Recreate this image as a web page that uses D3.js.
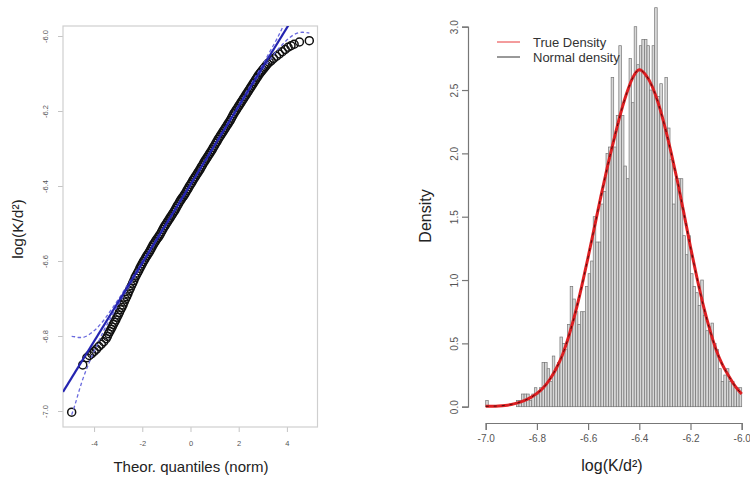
<!DOCTYPE html>
<html>
<head>
<meta charset="utf-8">
<script src="https://cdn.jsdelivr.net/npm/d3@7"></script>
<style>
  body { margin: 0; background: #fff; }
  svg { display: block; }
  text { font-family: "Liberation Sans", Arial, Helvetica, sans-serif; }
</style>
</head>
<body>
<svg id="chart" width="750" height="481"></svg>
<script>
// ---------- Normal Q-Q plot of log(K/d^2) ----------
const qqTheoretical = [
  -4.93, -4.47, -4.30, -4.20, -4.10, -4.00, -3.90, -3.80, -3.70, -3.60, -3.50,
  -3.45, -3.40, -3.35, -3.30, -3.25, -3.20, -3.15, -3.10, -3.05, -3.00,
  -2.95, -2.90, -2.85, -2.80, -2.75, -2.70, -2.65, -2.60, -2.55, -2.50,
  -2.45, -2.40, -2.35, -2.30, -2.25, -2.20, -2.15, -2.10, -2.05, -2.00,
  -1.95, -1.90, -1.85, -1.80, -1.75, -1.70, -1.65, -1.60, -1.55, -1.50,
  -1.45, -1.40, -1.35, -1.30, -1.25, -1.20, -1.15, -1.10, -1.05, -1.00,
  -0.95, -0.90, -0.85, -0.80, -0.75, -0.70, -0.65, -0.60, -0.55, -0.50,
  -0.45, -0.40, -0.35, -0.30, -0.25, -0.20, -0.15, -0.10, -0.05, 0.00,
  0.05, 0.10, 0.15, 0.20, 0.25, 0.30, 0.35, 0.40, 0.45, 0.50,
  0.55, 0.60, 0.65, 0.70, 0.75, 0.80, 0.85, 0.90, 0.95, 1.00,
  1.05, 1.10, 1.15, 1.20, 1.25, 1.30, 1.35, 1.40, 1.45, 1.50,
  1.55, 1.60, 1.65, 1.70, 1.75, 1.80, 1.85, 1.90, 1.95, 2.00,
  2.05, 2.10, 2.15, 2.20, 2.25, 2.30, 2.35, 2.40, 2.45, 2.50,
  2.55, 2.60, 2.65, 2.70, 2.75, 2.80, 2.85, 2.90, 2.95, 3.00,
  3.05, 3.10, 3.15, 3.20, 3.27, 3.35, 3.45, 3.57, 3.69, 3.81,
  3.93, 4.05, 4.17, 4.30, 4.52, 4.93
];
const qqSample = [
  -7.003, -6.877, -6.858, -6.852, -6.847, -6.841, -6.835, -6.828, -6.822, -6.815, -6.807,
  -6.801, -6.794, -6.788, -6.782, -6.776, -6.769, -6.763, -6.757, -6.750, -6.744,
  -6.737, -6.730, -6.724, -6.717, -6.709, -6.702, -6.695, -6.688, -6.680, -6.673,
  -6.666, -6.659, -6.652, -6.644, -6.638, -6.632, -6.626, -6.619, -6.613, -6.607,
  -6.601, -6.596, -6.590, -6.585, -6.580, -6.575, -6.569, -6.563, -6.557, -6.552,
  -6.547, -6.542, -6.538, -6.533, -6.528, -6.522, -6.516, -6.510, -6.505, -6.500,
  -6.495, -6.490, -6.485, -6.480, -6.475, -6.470, -6.465, -6.459, -6.453, -6.448,
  -6.442, -6.437, -6.432, -6.428, -6.423, -6.418, -6.412, -6.407, -6.401, -6.396,
  -6.391, -6.385, -6.380, -6.375, -6.370, -6.365, -6.360, -6.355, -6.349, -6.344,
  -6.338, -6.333, -6.328, -6.323, -6.318, -6.313, -6.308, -6.303, -6.297, -6.292,
  -6.286, -6.281, -6.275, -6.270, -6.265, -6.260, -6.255, -6.250, -6.245, -6.240,
  -6.235, -6.230, -6.225, -6.219, -6.213, -6.207, -6.202, -6.197, -6.192, -6.187,
  -6.182, -6.177, -6.172, -6.167, -6.162, -6.157, -6.152, -6.147, -6.142, -6.137,
  -6.132, -6.127, -6.122, -6.117, -6.112, -6.107, -6.102, -6.098, -6.094, -6.090,
  -6.086, -6.082, -6.078, -6.074, -6.070, -6.066, -6.060, -6.054, -6.048, -6.042,
  -6.036, -6.030, -6.026, -6.022, -6.016, -6.0125
];
// fitted reference line (through the quartiles)
const qqLineIntercept = -6.396;
const qqLineSlope = 0.1045;
// pointwise confidence envelope
const envTheoretical = [-4.93, -4.80, -4.65, -4.50, -4.30, -4.10, -3.90, -3.60, -3.30, -3.00,
  -2.60, -2.20, -1.80, -1.40, -1.00, 0.00, 1.00, 1.40, 1.80, 2.20, 2.60, 3.00,
  3.30, 3.60, 3.90, 4.10, 4.30, 4.50, 4.65, 4.80, 4.93];
const envUpper = [-6.801, -6.802, -6.804, -6.804, -6.800, -6.791, -6.780, -6.758, -6.731, -6.703,
  -6.663, -6.622, -6.581, -6.540, -6.499, -6.395, -6.290, -6.247, -6.205, -6.162, -6.119, -6.076,
  -6.041, -6.006, -5.966, -5.937, -5.905, -5.868, -5.835, -5.799, -5.771];
const envLower = [-7.010, -6.985, -6.952, -6.921, -6.886, -6.855, -6.827, -6.786, -6.751, -6.717,
  -6.673, -6.630, -6.587, -6.545, -6.503, -6.398, -6.294, -6.252, -6.211, -6.170, -6.129, -6.089,
  -6.063, -6.038, -6.017, -6.005, -5.996, -5.991, -5.990, -5.991, -5.992];
const qqXTicks = [-4, -2, 0, 2, 4];
const qqYTicks = [-7.0, -6.8, -6.6, -6.4, -6.2, -6.0];

// ---------- Histogram with density curves ----------
const histStart = -7.0;
const histBinWidth = 0.01;
const histDensity = [
  0.05, 0, 0, 0, 0, 0, 0, 0, 0, 0,
  0, 0, 0.05, 0.05, 0.10, 0.10, 0.10, 0.05, 0.10, 0.15,
  0.10, 0.15, 0.35, 0.35, 0.30, 0.20, 0.40, 0.30, 0.35, 0.55,
  0.50, 0.45, 0.65, 0.95, 0.85, 0.75, 0.65, 0.75, 0.75, 0.95,
  1.05, 1.15, 1.50, 1.30, 1.30, 1.60, 1.70, 2.00, 2.05, 2.60,
  2.05, 2.30, 2.85, 2.30, 1.90, 1.80, 2.75, 2.40, 3.00, 2.70,
  2.85, 2.90, 2.90, 2.85, 2.50, 2.85, 3.15, 2.45, 2.55, 2.25,
  2.60, 2.20, 1.95, 1.60, 1.80, 1.80, 1.80, 1.35, 1.20, 1.35,
  1.05, 0.95, 0.90, 0.80, 1.00, 0.72, 0.60, 0.63, 0.66, 0.50,
  0.45, 0.30, 0.20, 0.25, 0.30, 0.20, 0.20, 0.15, 0.15, 0.15
];
const curveX = [
  -7.000, -6.975, -6.950, -6.925, -6.900, -6.875, -6.850, -6.825, -6.800, -6.775,
  -6.750, -6.725, -6.700, -6.675, -6.650, -6.625, -6.600, -6.575, -6.550, -6.525,
  -6.500, -6.475, -6.450, -6.425, -6.400, -6.375, -6.350, -6.325, -6.300, -6.275,
  -6.250, -6.225, -6.200, -6.175, -6.150, -6.125, -6.100, -6.075, -6.050, -6.025, -6.000
];
const trueDensity = [
  0.003, 0.004, 0.006, 0.010, 0.018, 0.030, 0.048, 0.072, 0.105, 0.150,
  0.215, 0.300, 0.410, 0.560, 0.740, 0.950, 1.180, 1.420, 1.660, 1.890,
  2.100, 2.300, 2.470, 2.600, 2.660, 2.620, 2.530, 2.390, 2.210, 2.000,
  1.770, 1.520, 1.260, 1.020, 0.800, 0.610, 0.450, 0.330, 0.240, 0.160, 0.100
];
const normalDensity = [
  0.003, 0.004, 0.006, 0.010, 0.018, 0.030, 0.048, 0.072, 0.105, 0.150,
  0.215, 0.300, 0.410, 0.560, 0.740, 0.950, 1.180, 1.420, 1.660, 1.890,
  2.100, 2.300, 2.470, 2.600, 2.660, 2.620, 2.530, 2.390, 2.210, 2.000,
  1.770, 1.520, 1.260, 1.020, 0.800, 0.610, 0.450, 0.330, 0.240, 0.160, 0.100
];
const histXTicks = [-7.0, -6.8, -6.6, -6.4, -6.2, -6.0];
const histYTicks = [0.0, 0.5, 1.0, 1.5, 2.0, 2.5, 3.0];
const legendItems = ["True Density", "Normal density"];
const legendColors = ["#e8393a", "#333333"];

const svg = d3.select("#chart");
const fmt1 = v => v.toFixed(1);
const fmt0 = v => String(v);

// ================= left panel: Q-Q plot =================
const qqBox = { left: 63, right: 317.5, top: 26, bottom: 427 };
const xQ = d3.scaleLinear().domain([-5.29, 5.27]).range([qqBox.left, qqBox.right]);
const yQ = d3.scaleLinear().domain([-7.0, -6.0]).range([411, 36]);

svg.append("clipPath").attr("id", "qqclip")
  .append("rect")
  .attr("x", qqBox.left).attr("y", qqBox.top)
  .attr("width", qqBox.right - qqBox.left).attr("height", qqBox.bottom - qqBox.top);

const qqG = svg.append("g");

// axes (ticks outside the box, y labels parallel to the axis)
qqG.append("g").attr("transform", `translate(0,${qqBox.bottom})`)
  .call(d3.axisBottom(xQ).tickValues(qqXTicks).tickFormat(fmt0).tickSize(5).tickPadding(9))
  .call(g => g.select(".domain").remove());
qqG.append("g").attr("transform", `translate(${qqBox.left},0)`)
  .call(d3.axisLeft(yQ).tickValues(qqYTicks).tickFormat(fmt1).tickSize(5).tickPadding(0))
  .call(g => g.select(".domain").remove())
  .call(g => g.selectAll(".tick text")
    .attr("x", null).attr("dy", null)
    .attr("text-anchor", "middle")
    .attr("transform", "translate(-15,0) rotate(-90)"));
qqG.selectAll(".tick line").attr("stroke", "#c4c4c4");
qqG.selectAll(".tick text").attr("fill", "#555").attr("font-size", 7.5);

qqG.append("rect")
  .attr("x", qqBox.left).attr("y", qqBox.top)
  .attr("width", qqBox.right - qqBox.left).attr("height", qqBox.bottom - qqBox.top)
  .attr("fill", "none").attr("stroke", "#cfcfcf").attr("stroke-width", 1.2);

const plotQ = qqG.append("g").attr("clip-path", "url(#qqclip)");

// points
plotQ.append("g").selectAll("circle")
  .data(qqTheoretical.map((z, i) => [z, qqSample[i]]))
  .join("circle")
  .attr("cx", d => xQ(d[0])).attr("cy", d => yQ(d[1]))
  .attr("r", 4)
  .attr("fill", "none").attr("stroke", "#111").attr("stroke-width", 1.5);

// envelope
const envLine = vals => d3.line()
  .x(z => xQ(z))
  .y((z, i) => yQ(vals[i]))
  .curve(d3.curveMonotoneX);
[envUpper, envLower].forEach(arr => {
  plotQ.append("path")
    .attr("d", envLine(arr)(envTheoretical))
    .attr("fill", "none").attr("stroke", "#6a6ade")
    .attr("stroke-width", 1.3).attr("stroke-dasharray", "3.5,2.5");
});

// reference line
const [zMin, zMax] = xQ.domain();
plotQ.append("line")
  .attr("x1", xQ(zMin)).attr("y1", yQ(qqLineIntercept + qqLineSlope * zMin))
  .attr("x2", xQ(zMax)).attr("y2", yQ(qqLineIntercept + qqLineSlope * zMax))
  .attr("stroke", "#2424b0").attr("stroke-width", 2.2);

// titles
svg.append("text")
  .attr("x", 191).attr("y", 472)
  .attr("text-anchor", "middle").attr("font-size", 15).attr("fill", "#222")
  .text("Theor. quantiles (norm)");
svg.append("text")
  .attr("transform", "translate(23,229) rotate(-90)")
  .attr("text-anchor", "middle").attr("font-size", 15.5).attr("fill", "#222")
  .text("log(K/d²)");

// ================= right panel: histogram =================
const xH = d3.scaleLinear().domain([-7.0, -6.0]).range([485.7, 741.7]);
const yH = d3.scaleLinear().domain([0, 3]).range([406.7, 26.7]);
const hG = svg.append("g");

// bars
hG.append("g").selectAll("rect")
  .data(histDensity)
  .join("rect")
  .attr("x", (d, i) => xH(histStart + i * histBinWidth))
  .attr("width", (d, i) => xH(histStart + (i + 1) * histBinWidth) - xH(histStart + i * histBinWidth))
  .attr("y", d => yH(d))
  .attr("height", d => yH(0) - yH(d))
  .attr("fill", "#d8d8d8").attr("stroke", "#767676").attr("stroke-width", 0.7);

// density curves
const densLine = vals => d3.line()
  .x(x => xH(x))
  .y((x, i) => yH(vals[i]))
  .curve(d3.curveMonotoneX);
hG.append("path").attr("d", densLine(trueDensity)(curveX))
  .attr("fill", "none").attr("stroke", "#dd1f22").attr("stroke-width", 3);
hG.append("path").attr("d", densLine(normalDensity)(curveX))
  .attr("fill", "none").attr("stroke", "#2a0a0a").attr("stroke-width", 1)
  .attr("stroke-dasharray", "3,5").attr("opacity", 0.8);

// axes
hG.append("g").attr("transform", "translate(0,423)")
  .call(d3.axisBottom(xH).tickValues(histXTicks).tickFormat(fmt1).tickSize(7).tickPadding(5));
hG.append("g").attr("transform", "translate(468,0)")
  .call(d3.axisLeft(yH).tickValues(histYTicks).tickFormat(fmt1).tickSize(6).tickPadding(0))
  .call(g => g.selectAll(".tick text")
    .attr("x", null).attr("dy", null)
    .attr("text-anchor", "middle")
    .attr("transform", "translate(-10,0) rotate(-90)"));
hG.selectAll(".domain").attr("stroke", "#777").attr("stroke-width", 1.2);
hG.selectAll(".tick line").attr("stroke", "#777").attr("stroke-width", 1.2);
hG.selectAll(".tick text").attr("fill", "#555").attr("font-size", 10);

// legend
const legend = svg.append("g").attr("transform", "translate(497,42)");
legendItems.forEach((label, i) => {
  const row = legend.append("g").attr("transform", `translate(0,${i * 15})`);
  row.append("line").attr("x1", 0).attr("x2", 23).attr("y1", 0).attr("y2", 0)
    .attr("stroke", legendColors[i]).attr("stroke-width", 1);
  row.append("text").attr("x", 36).attr("y", 0).attr("dy", "0.35em")
    .attr("font-size", 13).attr("fill", "#333").text(label);
});

// titles
svg.append("text")
  .attr("x", 612).attr("y", 471)
  .attr("text-anchor", "middle").attr("font-size", 16).attr("fill", "#222")
  .text("log(K/d²)");
svg.append("text")
  .attr("transform", "translate(431,216) rotate(-90)")
  .attr("text-anchor", "middle").attr("font-size", 16).attr("fill", "#222")
  .text("Density");
</script>
</body>
</html>
